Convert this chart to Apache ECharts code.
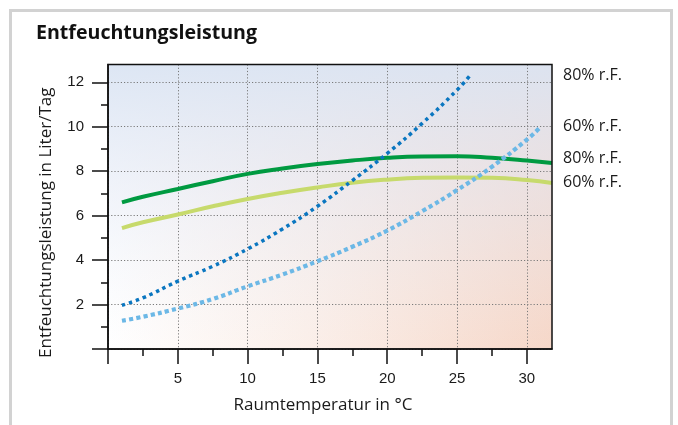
<!DOCTYPE html>
<html><head><meta charset="utf-8">
<script src="https://cdn.jsdelivr.net/npm/echarts@6/dist/echarts.min.js"></script>
<style>html,body{margin:0;padding:0;background:#fff}#c{width:678px;height:425px}</style>
</head><body><div id="c"></div>
<script>
// ---- data ----
const xSolid = [1, 2.5, 5, 7.5, 10, 12.5, 15, 17.5, 20, 22.5, 25, 27.5, 30, 31.8];
const solid80 = [6.6, 6.85, 7.2, 7.55, 7.88, 8.12, 8.32, 8.48, 8.6, 8.66, 8.67, 8.6, 8.48, 8.37];
const solid60 = [5.44, 5.7, 6.05, 6.42, 6.75, 7.03, 7.27, 7.48, 7.62, 7.7, 7.72, 7.7, 7.6, 7.47];
const xDot80 = [1, 2.5, 5, 7.5, 10, 12.5, 15, 17.5, 20, 22.5, 25, 25.9];
const dot80 = [1.97, 2.3, 3.05, 3.72, 4.5, 5.4, 6.42, 7.58, 8.8, 10.15, 11.65, 12.28];
const xDot60 = [1, 2.5, 5, 7.5, 10, 12.5, 15, 17.5, 20, 22.5, 25, 27.5, 30, 31];
const dot60 = [1.27, 1.45, 1.82, 2.25, 2.82, 3.35, 3.95, 4.6, 5.33, 6.2, 7.15, 8.2, 9.42, 10.0];

const rfLabels = ['80% r.F.', '60% r.F.', '80% r.F.', '60% r.F.'];
const rfLabelY = [12.3, 10.0, 8.57, 7.5];

const xMajor = [0, 5, 10, 15, 20, 25, 30];
const xMinor = [2.5, 7.5, 12.5, 17.5, 22.5, 27.5];
const xLabels = [5, 10, 15, 20, 25, 30];
const yMajor = [0, 2, 4, 6, 8, 10, 12];
const yMinor = [1, 3, 5, 7, 9, 11];
const yLabels = [2, 4, 6, 8, 10, 12];
const X_MAX = 31.8, Y_MAX = 12.8;

// ---- layout ----
const G = {left: 108, top: 64.5, right: 126, bottom: 76};
const W = 678, H = 425;
const gw = W - G.left - G.right, gh = H - G.top - G.bottom;

const zip = (xs, ys) => xs.map((x, i) => [x, ys[i]]);
const ink = '#111';
const txt = '#1a1a1a';

function rfMark(i) {
  return {
    symbol: 'rect', symbolSize: 0, silent: true, animation: false,
    label: {show: true, position: 'right', distance: 11, formatter: rfLabels[i],
      color: txt, fontSize: 16, fontFamily: 'Open Sans'},
    data: [{coord: [X_MAX, rfLabelY[i]]}]
  };
}

const chart = echarts.init(document.getElementById('c'), null, {renderer: 'canvas'});
chart.setOption({
  animation: false,
  backgroundColor: '#fff',
  title: {text: 'Entfeuchtungsleistung', left: 36, top: 23, padding: 0,
    textStyle: {fontSize: 19.6, fontWeight: 'bold', fontFamily: 'Open Sans', color: ink}},
  grid: {left: G.left, top: G.top, right: G.right, bottom: G.bottom, show: false, containLabel: false, outerBoundsMode: 'none'},
  xAxis: [
    {type: 'value', min: 0, max: X_MAX, interval: 5, position: 'bottom',
      name: 'Raumtemperatur in °C', nameLocation: 'middle', nameGap: 48, nameMoveOverlap: false,
      nameTextStyle: {fontSize: 17, fontFamily: 'Open Sans', color: txt, padding: [0, 14, 0, 0]},
      axisLine: {show: true, onZero: false, lineStyle: {color: ink, width: 1.5}},
      axisTick: {show: true, customValues: xMajor, length: 15, lineStyle: {color: ink, width: 1.5}},
      axisLabel: {customValues: xLabels, margin: 22, fontSize: 15, fontFamily: 'Liberation Sans', color: txt},
      splitLine: {show: true, lineStyle: {type: [1.2, 2], color: '#7a7a7a', width: 1}}},
    {type: 'value', min: 0, max: X_MAX, position: 'bottom',
      axisLine: {show: false},
      axisTick: {show: true, customValues: xMinor, length: 7, lineStyle: {color: ink, width: 1.5}},
      axisLabel: {show: false}, splitLine: {show: false}}
  ],
  yAxis: [
    {type: 'value', min: 0, max: Y_MAX, interval: 2, position: 'left',
      name: 'Entfeuchtungsleistung in Liter/Tag', nameLocation: 'middle', nameGap: 53, nameRotate: 90, nameMoveOverlap: false,
      nameTextStyle: {fontSize: 17, fontFamily: 'Open Sans', color: txt, padding: [0, 32, 0, 0]},
      axisLine: {show: true, onZero: false, lineStyle: {color: ink, width: 1.5}},
      axisTick: {show: true, customValues: yMajor, length: 16, lineStyle: {color: ink, width: 1.5}},
      axisLabel: {customValues: yLabels, margin: 24, fontSize: 15, fontFamily: 'Liberation Sans', color: txt},
      splitLine: {show: true, lineStyle: {type: [1.2, 2], color: '#7a7a7a', width: 1}}},
    {type: 'value', min: 0, max: Y_MAX, position: 'left',
      axisLine: {show: false},
      axisTick: {show: true, customValues: yMinor, length: 7, lineStyle: {color: ink, width: 1.5}},
      axisLabel: {show: false}, splitLine: {show: false}}
  ],
  graphic: {elements: [
    {type: 'rect', z: -20, silent: true, shape: {x: G.left, y: G.top, width: gw, height: gh},
      style: {fill: new echarts.graphic.LinearGradient(0, 0, 1, 0, [
        {offset: 0, color: '#ffffff'}, {offset: 0.45, color: '#fbefe9'}, {offset: 1, color: '#f6d7c8'}])}},
    {type: 'rect', z: -19, silent: true, shape: {x: G.left, y: G.top, width: gw, height: gh},
      style: {fill: new echarts.graphic.LinearGradient(0, 0, 0, 1, [
        {offset: 0, color: 'rgba(218,228,243,0.92)'}, {offset: 0.45, color: 'rgba(226,232,245,0.5)'}, {offset: 1, color: 'rgba(235,240,250,0)'}])}},
    {type: 'rect', z: 50, silent: true, shape: {x: G.left, y: G.top, width: gw, height: gh},
      style: {fill: 'none', stroke: ink, lineWidth: 1.5}},
    {type: 'rect', z: 50, silent: true, shape: {x: 10.5, y: 10.5, width: 661, height: 440},
      style: {fill: 'none', stroke: '#d2d2d2', lineWidth: 3}}
  ]},
  series: [
    {name: '80% solid', type: 'line', data: zip(xSolid, solid80), smooth: true, symbol: 'none', z: 3,
      lineStyle: {color: '#009a41', width: 4}, markPoint: rfMark(2)},
    {name: '60% solid', type: 'line', data: zip(xSolid, solid60), smooth: true, symbol: 'none', z: 2,
      lineStyle: {color: '#c7da6c', width: 4}, markPoint: rfMark(3)},
    {name: '80% dotted', type: 'line', data: zip(xDot80, dot80), smooth: true, symbol: 'none', z: 5,
      lineStyle: {color: '#0a76c0', width: 3.5, type: [3.5, 3.8], cap: 'butt'}, markPoint: rfMark(0)},
    {name: '60% dotted', type: 'line', data: zip(xDot60, dot60), smooth: true, symbol: 'none', z: 4,
      lineStyle: {color: '#6cb8e6', width: 4.2, type: [4.2, 3.1], cap: 'butt'}, markPoint: rfMark(1)}
  ]
});
</script></body></html>
